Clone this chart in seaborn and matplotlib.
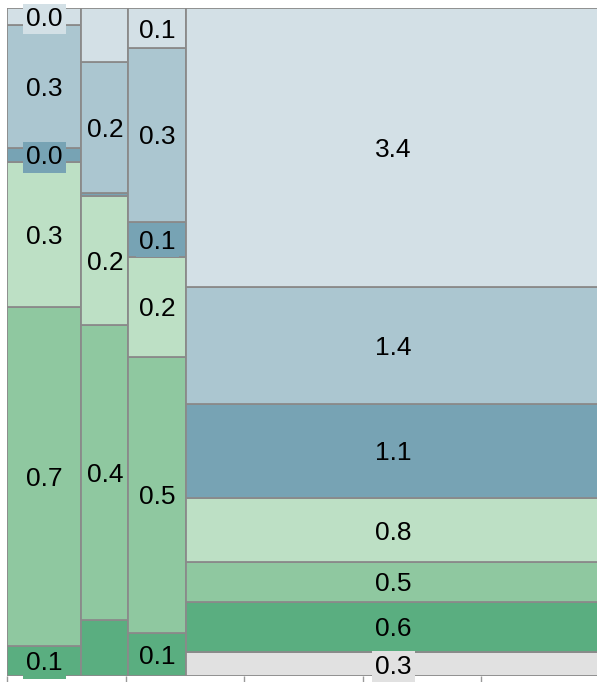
import matplotlib
matplotlib.use("Agg")
import matplotlib.pyplot as plt
import numpy as np
import seaborn as sns

# Segment order, bottom to top
segments = ["Gray", "Dark green", "Mid green", "Light green",
            "Dark blue", "Mid blue", "Light blue"]
colors = ["#e1e1e1", "#5aae80", "#8fc8a0", "#bde0c5",
          "#77a3b4", "#abc6d0", "#d3e0e6"]

# Values per column, bottom to top (same order as segments)
col_a = [0.0, 0.066, 0.739, 0.316, 0.031, 0.268, 0.037]
col_b = [0.0, 0.077, 0.407, 0.178, 0.004, 0.180, 0.075]
col_c = [0.0, 0.073, 0.469, 0.170, 0.059, 0.295, 0.068]
col_d = [0.29, 0.61, 0.48, 0.78, 1.14, 1.42, 3.38]
columns = [col_a, col_b, col_c, col_d]

# Which segments carry a value label
label_a = [False, True, True, True, True, True, True]
label_b = [False, False, True, True, False, True, False]
label_c = [False, True, True, True, True, True, True]
label_d = [True, True, True, True, True, True, True]
labels_on = [label_a, label_b, label_c, label_d]

xticks = [0.0, 0.2, 0.4, 0.6, 0.8]

sns.set_theme(style="white")
plt.rcParams["font.family"] = ["Liberation Sans", "DejaVu Sans"]

fig = plt.figure(figsize=(5.97, 6.82), dpi=100)
ax = fig.add_axes([7 / 597, 6 / 682, 593 / 597, 668 / 682])

totals = np.array([sum(c) for c in columns])
widths = totals / totals.sum()
lefts = np.concatenate([[0], np.cumsum(widths)[:-1]])

for col, show, x0, w, tot in zip(columns, labels_on, lefts, widths, totals):
    fracs = np.array(col) / tot
    bottoms = np.concatenate([[0], np.cumsum(fracs)[:-1]])
    for v, f, b, c, s in zip(col, fracs, bottoms, colors, show):
        if v <= 0:
            continue
        ax.bar(x0, f, width=w, bottom=b, align="edge", color=c,
               edgecolor="#8a8a8a", linewidth=1.3, zorder=2)
        if s:
            ax.text(x0 + w / 2, b + f / 2, f"{v:.1f}", ha="center",
                    va="center_baseline", fontsize=19, color="black",
                    zorder=5,
                    bbox=dict(boxstyle="square,pad=0.12", facecolor=c,
                              edgecolor="none"))

ax.set_xlim(0, 1)
ax.set_ylim(0, 1)
ax.set_xticks(xticks)
ax.set_yticks([])
ax.tick_params(axis="x", bottom=True, length=6, width=1,
               color="#999999", labelbottom=False)
for sp in ax.spines.values():
    sp.set_visible(False)

fig.savefig("out.png", dpi=100)
